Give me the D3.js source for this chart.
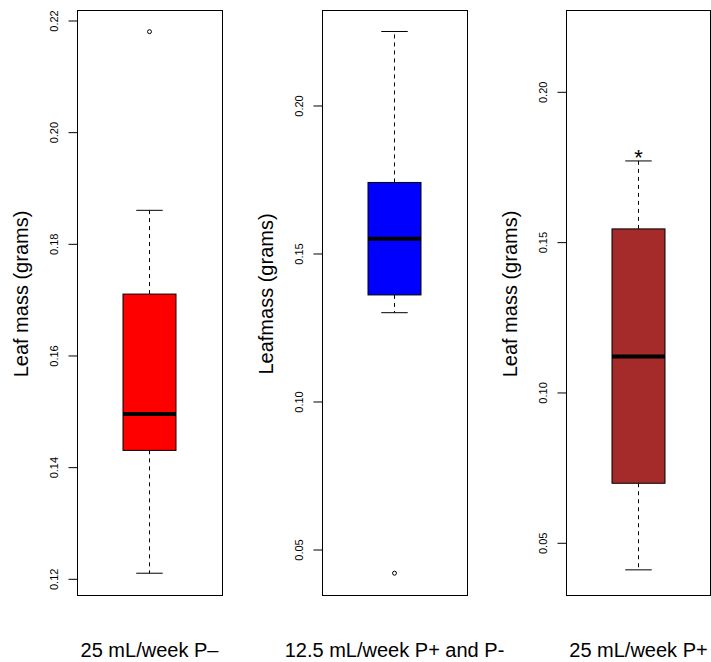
<!DOCTYPE html>
<html>
<head>
<meta charset="utf-8">
<script src="https://cdn.jsdelivr.net/npm/d3@7"></script>
<style>
  body { margin: 0; background: #fff; }
  svg { display: block; font-family: "Liberation Sans", Arial, Helvetica, sans-serif; }
</style>
</head>
<body>
<div id="chart"></div>
<script>
// boxplot summaries
var groups = ["25 mL/week P\u2013", "12.5 mL/week P+ and P-", "25 mL/week P+"];
var whiskerLow = [0.121, 0.130, 0.041];
var q1 = [0.143, 0.136, 0.0698];
var median = [0.1495, 0.155, 0.112];
var q3 = [0.171, 0.174, 0.1544];
var whiskerHigh = [0.186, 0.225, 0.177];
var outliers = [[0.218], [0.042], []];
var marks = ["", "", "*"];
var boxColors = ["#ff0000", "#0000ff", "#a52a2a"];
var yTitles = ["Leaf mass (grams)", "Leafmass (grams)", "Leaf mass (grams)"];
var yDomains = [[0.11701, 0.22179], [0.03446, 0.23209], [0.03247, 0.22704]];
var yTicks = [
  [0.12, 0.14, 0.16, 0.18, 0.20, 0.22],
  [0.05, 0.10, 0.15, 0.20],
  [0.05, 0.10, 0.15, 0.20]
];

var W = 711, H = 662;
var panelX = [77.5, 322.5, 566.5];
var panelW = 144;
var plotTop = 10.5, plotBottom = 595.5;

var svg = d3.select("#chart")
    .append("svg")
    .attr("width", W)
    .attr("height", H);

groups.forEach(function(g, i) {
  var panel = svg.append("g")
      .attr("transform", "translate(" + panelX[i] + ",0)");

  var y = d3.scaleLinear()
      .domain(yDomains[i])
      .range([plotBottom, plotTop]);

  var x = d3.scaleBand()
      .domain([g])
      .range([0, panelW])
      .padding(0.462);

  var cx = x(g) + x.bandwidth() / 2;
  var bw = x.bandwidth();

  // y axis, R style: rotated tick labels
  var axis = panel.append("g")
      .call(d3.axisLeft(y)
        .tickValues(yTicks[i])
        .tickSize(9)
        .tickFormat(d3.format(".2f")));
  axis.select(".domain").remove();
  axis.selectAll("line").attr("stroke", "#000");
  axis.selectAll("text")
      .attr("x", null)
      .attr("dy", null)
      .attr("text-anchor", "middle")
      .attr("transform", "translate(-19.5,0) rotate(-90)")
      .style("font-size", "11px")
      .style("font-family", "'Liberation Sans', Arial, sans-serif")
      .attr("fill", "#000");

  // whiskers
  panel.append("line")
      .attr("x1", cx).attr("x2", cx)
      .attr("y1", y(q3[i])).attr("y2", y(whiskerHigh[i]))
      .attr("stroke", "#000")
      .attr("stroke-dasharray", "4,4");
  panel.append("line")
      .attr("x1", cx).attr("x2", cx)
      .attr("y1", y(q1[i])).attr("y2", y(whiskerLow[i]))
      .attr("stroke", "#000")
      .attr("stroke-dasharray", "4,4");

  [whiskerLow[i], whiskerHigh[i]].forEach(function(v) {
    panel.append("line")
        .attr("x1", cx - bw / 4).attr("x2", cx + bw / 4)
        .attr("y1", y(v)).attr("y2", y(v))
        .attr("stroke", "#000");
  });

  // box
  panel.append("rect")
      .attr("x", x(g))
      .attr("y", y(q3[i]))
      .attr("width", bw)
      .attr("height", y(q1[i]) - y(q3[i]))
      .attr("fill", boxColors[i])
      .attr("stroke", "#000");

  panel.append("line")
      .attr("x1", x(g)).attr("x2", x(g) + bw)
      .attr("y1", y(median[i])).attr("y2", y(median[i]))
      .attr("stroke", "#000")
      .attr("stroke-width", 4);

  // outliers
  panel.selectAll("circle.out")
      .data(outliers[i])
      .enter()
      .append("circle")
      .attr("class", "out")
      .attr("cx", cx)
      .attr("cy", function(d) { return y(d); })
      .attr("r", 2)
      .attr("fill", "none")
      .attr("stroke", "#000");

  if (marks[i]) {
    panel.append("text")
        .attr("x", cx)
        .attr("y", y(whiskerHigh[i]) + 4)
        .attr("text-anchor", "middle")
        .style("font-size", "22px")
        .text(marks[i]);
  }

  // frame
  panel.append("rect")
      .attr("x", 0)
      .attr("y", plotTop)
      .attr("width", panelW + (i == 2 ? 0 : 1))
      .attr("height", plotBottom - plotTop)
      .attr("fill", "none")
      .attr("stroke", "#000");

  // y title
  panel.append("text")
      .attr("transform", "translate(-50,294) rotate(-90)")
      .attr("text-anchor", "middle")
      .style("font-size", "20px")
      .text(yTitles[i]);

  // group label under panel
  panel.append("text")
      .attr("x", panelW / 2)
      .attr("y", 656.5)
      .attr("text-anchor", "middle")
      .style("font-size", "20px")
      .text(g);
});
</script>
</body>
</html>
